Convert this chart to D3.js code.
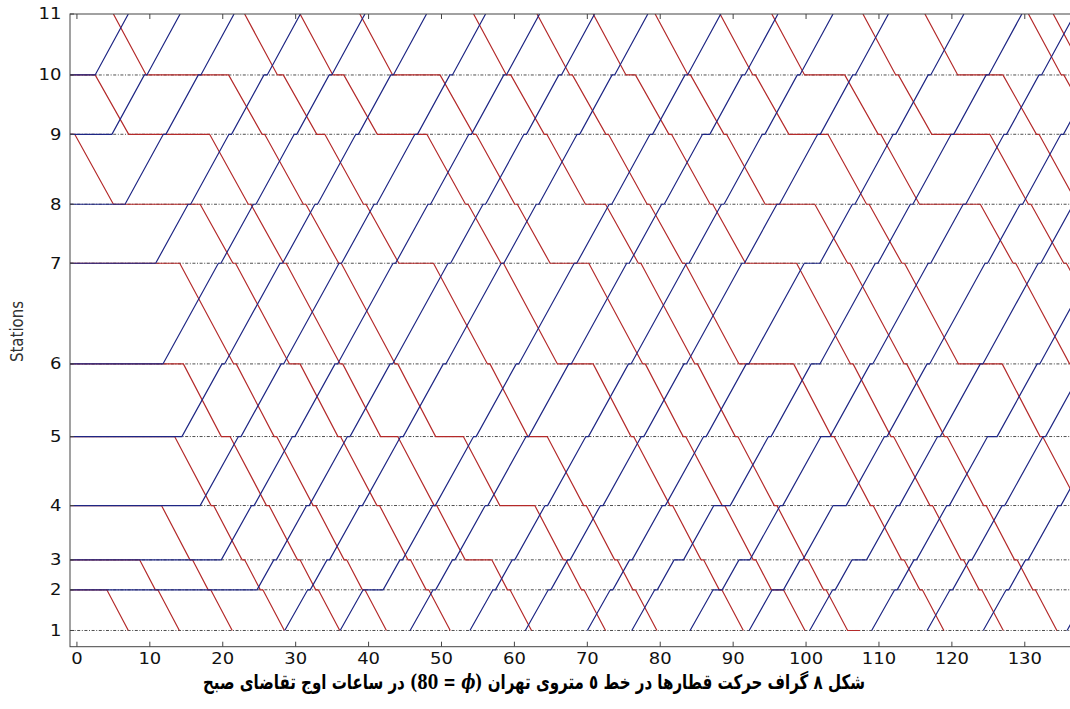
<!DOCTYPE html>
<html>
<head>
<meta charset="utf-8">
<script src="https://cdn.jsdelivr.net/npm/d3@7/dist/d3.min.js"></script>
<style>
  body { margin: 0; background: #fff; }
  #chart { position: relative; width: 1070px; height: 709px; overflow: hidden; }
  #graph { position: absolute; left: 0; top: 0; }
  #caption {
    position: absolute; top: 670px; left: 0; white-space: nowrap; direction: rtl;
    font-family: "DejaVu Sans", sans-serif; font-weight: bold; font-size: 20px;
    line-height: 24px; color: #000; transform-origin: 0 0;
  }
  #caption .math {
    display: inline-block; direction: ltr; unicode-bidi: isolate;
    font-family: "DejaVu Serif", serif; font-weight: bold;
  }
</style>
</head>
<body>
<div id="chart">
  <svg id="graph" width="1070" height="709"></svg>
  <div id="caption"></div>
</div>
<script>
// station labels and their distance along the line
const stationLabels = ["1", "2", "3", "4", "5", "6", "7", "8", "9", "10", "11"];
const stationKm = [0, 0.66, 1.146, 2.027, 3.146, 4.324, 5.957, 6.914, 8.049, 9.011, 10.0];

// running time (min) between consecutive stations, 1-2 ... 10-11
const runUp = [3.15, 2.3, 4.15, 5.25, 5.5, 7.6, 4.45, 5.25, 4.45, 4.55];
const runDown = [2.95, 2.15, 3.9, 5.0, 5.2, 7.4, 4.5, 5.3, 4.6, 4.5];
const dwellMin = 0.35;

const xTickValues = [0, 10, 20, 30, 40, 50, 60, 70, 80, 90, 100, 110, 120, 130];

// trains towards station 11: [start station, departure, [[station, held until], ...]]
const upTrains = [
  [10, 2.5, []],
  [9, 4.8, []],
  [8, 6.6, []],
  [7, 10.8, [[9, 20.8], [10, 26.1]]],
  [6, 11.8, []],
  [5, 14.4, []],
  [4, 16.9, []],
  [3, 19.8, []],
  [2, 24.7, []],
  [1, 28.5, []],
  [1, 36.1, [[2, 42.0]]],
  [1, 45.7, [[9, 86.8]]],
  [1, 53.9, []],
  [1, 61.5, []],
  [1, 70.0, [[4, 80.7], [7, 101.9]]],
  [1, 76.1, [[3, 83.2], [4, 89.6], [6, 101.9]]],
  [1, 84.1, [[2, 88.5], [3, 92.3], [5, 103.3]]],
  [1, 92.2, [[2, 96.9], [4, 105.5]]],
  [1, 100.5, [[3, 108.3]]],
  [1, 109.0, [[5, 126.2]]],
  [1, 116.6, []],
  [1, 124.3, []],
  [1, 135.8, []]
];

// trains towards station 1
const downTrains = [
  [9, -0.3, [[8, 16.9], [6, 30.6]]],
  [10, 2.5, [[9, 18.2], [5, 44.0], [3, 56.9]]],
  [11, 5.0, [[10, 20.8], [5, 53.0], [4, 62.8]]],
  [7, 14.1, []],
  [6, 14.6, [[5, 21.0]]],
  [5, 13.4, []],
  [4, 11.6, []],
  [3, 8.6, []],
  [2, 4.1, []],
  [11, 23.0, [[10, 28.3], [9, 34.0], [7, 48.9], [5, 64.5]]],
  [11, 30.6, [[10, 36.6], [9, 48.0], [6, 70.8]]],
  [11, 38.8, [[10, 49.8], [7, 70.2], [2, 96.9]]],
  [11, 54.4, [[10, 59.5], [8, 72.5], [1, 107.4]]],
  [11, 63.1, [[6, 98.3]]],
  [11, 70.8, [[10, 76.6], [7, 98.7]]],
  [11, 79.3, [[8, 101.2]]],
  [11, 88.2, [[9, 103.0], [6, 126.9]]],
  [11, 95.3, [[10, 105.3], [8, 123.9]]],
  [11, 107.8, [[9, 125.2]]],
  [11, 116.3, [[10, 127.0]]],
  [11, 130.5, []],
  [11, 133.9, []]
];

const plot = { left: 70, right: 1070, top: 14, bottom: 646.7 };

const svg = d3.select("#graph");

const x = d3.scaleLinear().domain([-0.95, 136.2]).range([plot.left, plot.right]);
const y = d3.scaleLinear().domain([-0.263, 10]).range([plot.bottom, plot.top]);

svg.append("defs").append("clipPath").attr("id", "plot-clip")
  .append("rect")
  .attr("x", plot.left).attr("y", plot.top)
  .attr("width", plot.right - plot.left).attr("height", plot.bottom - plot.top);

// dash-dot station lines
svg.append("g")
  .selectAll("line")
  .data(stationKm.slice(0, 10))
  .join("line")
  .attr("x1", plot.left).attr("x2", plot.right)
  .attr("y1", d => y(d)).attr("y2", d => y(d))
  .attr("stroke", "#222")
  .attr("stroke-width", 0.8)
  .attr("stroke-dasharray", "3,1.6,1,1.6");

// turn a timetable row into [time, station] vertices
function trainPoints(train, dir) {
  const [start, dep, holds] = train;
  const holdMap = new Map(holds);
  const step = dir === "up" ? 1 : -1;
  const origin = dir === "up" ? 1 : 11;
  const end = dir === "up" ? 11 : 1;
  const pts = [];
  if (start !== origin) pts.push([x.domain()[0], start]); // parked at t = 0
  pts.push([dep, start]);
  let t = dep, s = start;
  while (s !== end) {
    const run = dir === "up" ? runUp[s - 1] : runDown[s - 2];
    t += run;
    s += step;
    pts.push([t, s]);
    if (s === end) {
      if (holdMap.has(s)) pts.push([holdMap.get(s), s]);
      break;
    }
    t = Math.max(t + dwellMin, holdMap.get(s) ?? 0);
    pts.push([t, s]);
  }
  return pts;
}

const line = d3.line()
  .x(d => x(d[0]))
  .y(d => y(stationKm[d[1] - 1]));

const trains = svg.append("g").attr("clip-path", "url(#plot-clip)");

trains.append("g")
  .selectAll("path")
  .data(downTrains.map(t => trainPoints(t, "down")))
  .join("path")
  .attr("d", line)
  .attr("fill", "none")
  .attr("stroke", "#b42a2a")
  .attr("stroke-width", 1.2);

trains.append("g")
  .selectAll("path")
  .data(upTrains.map(t => trainPoints(t, "up")))
  .join("path")
  .attr("d", line)
  .attr("fill", "none")
  .attr("stroke", "#1e2684")
  .attr("stroke-width", 1.2);

// frame
svg.append("rect")
  .attr("x", plot.left).attr("y", plot.top)
  .attr("width", plot.right - plot.left + 2).attr("height", plot.bottom - plot.top)
  .attr("fill", "none").attr("stroke", "#444").attr("stroke-width", 1);

// inward ticks, bottom, top and left
const ticks = svg.append("g").attr("stroke", "#444").attr("stroke-width", 1);
ticks.selectAll(".tb").data(xTickValues).join("line")
  .attr("x1", d => x(d)).attr("x2", d => x(d))
  .attr("y1", plot.bottom).attr("y2", plot.bottom - 5);
ticks.selectAll(".tt").data(xTickValues).join("line")
  .attr("x1", d => x(d)).attr("x2", d => x(d))
  .attr("y1", plot.top).attr("y2", plot.top + 5);
ticks.selectAll(".tl").data(stationKm).join("line")
  .attr("x1", plot.left).attr("x2", plot.left + 4)
  .attr("y1", d => y(d)).attr("y2", d => y(d));

// tick labels (the source picture is stretched sideways)
svg.append("g")
  .selectAll("text")
  .data(xTickValues)
  .join("text")
  .attr("transform", d => `translate(${x(d)},664) scale(1.2,1)`)
  .attr("text-anchor", "middle")
  .attr("font-family", "DejaVu Sans, sans-serif")
  .attr("font-size", 15)
  .attr("fill", "#111")
  .text(d => d);

svg.append("g")
  .selectAll("text")
  .data(stationKm)
  .join("text")
  .attr("transform", d => `translate(61.5,${y(d) + 5.3}) scale(1.2,1)`)
  .attr("text-anchor", "end")
  .attr("font-family", "DejaVu Sans, sans-serif")
  .attr("font-size", 15)
  .attr("fill", "#111")
  .text((d, i) => stationLabels[i]);

svg.append("text")
  .attr("transform", "translate(22.5,331.5) scale(1.2,1) rotate(-90)")
  .attr("text-anchor", "middle")
  .attr("font-family", "DejaVu Sans, sans-serif")
  .attr("font-size", 15)
  .attr("fill", "#333")
  .text("Stations");

// caption, right-to-left with the phi expression kept as one left-to-right block
const cap = document.getElementById("caption");
cap.appendChild(document.createTextNode("شکل ٨ گراف حرکت قطارها در خط ٥ متروی تهران "));
const math = document.createElement("span");
math.className = "math";
math.innerHTML = "(80 = <i>ϕ</i>)";
cap.appendChild(math);
cap.appendChild(document.createTextNode(" در ساعات اوج تقاضای صبح"));

const capW = cap.getBoundingClientRect().width;
const targetW = 662, centerX = 534;
const sx = targetW / capW;
cap.style.left = (centerX - targetW / 2) + "px";
cap.style.transform = `scaleX(${sx})`;
</script>
</body>
</html>
